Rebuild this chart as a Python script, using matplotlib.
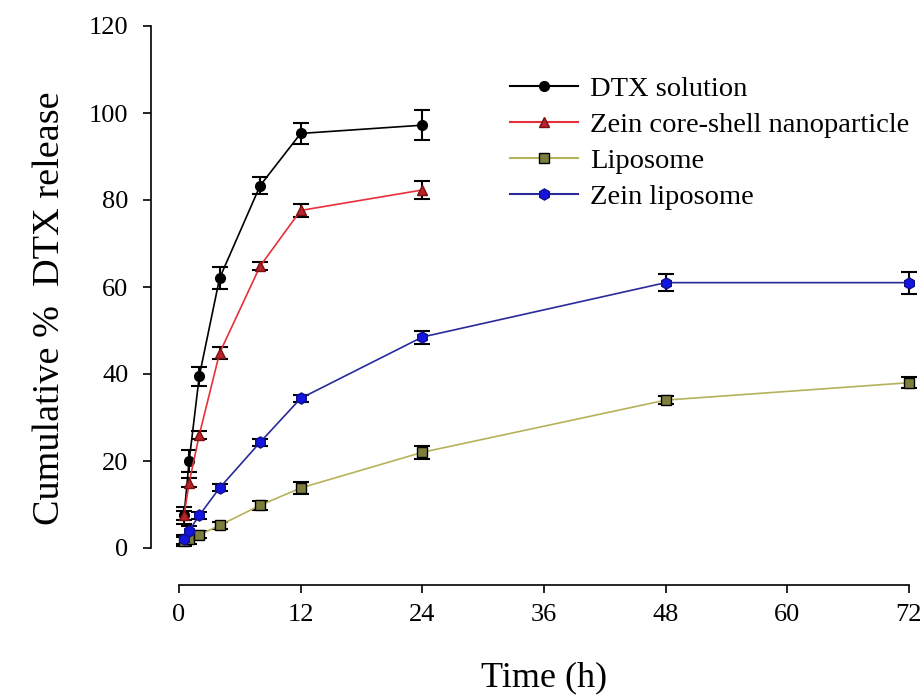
import matplotlib
matplotlib.use("Agg")
import matplotlib.pyplot as plt
from matplotlib.lines import Line2D

time_dtx = [0.5, 1, 2, 4, 8, 12, 24]
dtx_solution = [7.5, 20, 39.5, 62, 83.3, 95.3, 97.2]
dtx_err = [2, 2.5, 2.2, 2.5, 2, 2.5, 3.5]

time_zcs = [0.5, 1, 2, 4, 8, 12, 24]
zein_cs = [7.5, 15, 26, 44.8, 64.8, 77.6, 82.3]
zcs_err = [1, 1, 1, 1.3, 1, 1.5, 2]

time_lipo = [0.5, 1, 2, 4, 8, 12, 24, 48, 72]
liposome = [1.5, 2, 3, 5.2, 9.8, 13.8, 22, 34, 38]
lipo_err = [1, 1, 0.8, 0.8, 1, 1.3, 1.5, 1, 1.2]

time_zl = [0.5, 1, 2, 4, 8, 12, 24, 48, 72]
zein_lipo = [2, 4, 7.5, 13.8, 24.3, 34.4, 48.5, 61, 61]
zl_err = [1, 1, 0.8, 0.8, 0.8, 0.8, 1.5, 2, 2.5]

labels = ['DTX solution', 'Zein core-shell nanoparticle', 'Liposome', 'Zein liposome']
x_ticks = [0, 12, 24, 36, 48, 60, 72]
y_ticks = [0, 20, 40, 60, 80, 100, 120]

plt.rcParams['font.family'] = ['Liberation Serif', 'DejaVu Serif']

fig = plt.figure(figsize=(9.24, 7), dpi=100)
ax = fig.add_axes([179/924, 1 - 548/700, 730/924, 522/700])

ekw = dict(ecolor='black', elinewidth=1.5, capsize=6, capthick=1.5, clip_on=False)

styles = [
    dict(color='black', marker='o', ms=7, mfc='black', mec='black'),
    dict(color='#e8303a', marker='^', ms=7, mfc='#b8242c', mec='#7a1010'),
    dict(color='#b5b25a', marker='s', ms=7, mfc='#7d7d3c', mec='black'),
    dict(color='#2a2a9a', marker='h', ms=8, mfc='#1515e0', mec='#10108a'),
]
series = [(time_dtx, dtx_solution, dtx_err), (time_zcs, zein_cs, zcs_err),
          (time_lipo, liposome, lipo_err), (time_zl, zein_lipo, zl_err)]

handles = []
for (t, v, e), st, lab in zip(series, styles, labels):
    ax.errorbar(t, v, yerr=e, lw=1.2, **st, **ekw)
    handles.append(Line2D([], [], lw=1.5, **st))

ax.set_xlim(0, 72)
ax.set_ylim(0, 120)
ax.set_xticks(x_ticks)
ax.set_yticks(y_ticks)
ax.spines['top'].set_visible(False)
ax.spines['right'].set_visible(False)
ax.spines['left'].set_position(('outward', 20.5))
ax.spines['bottom'].set_position(('outward', 26.5))
ax.spines['left'].set_bounds(0, 120)
ax.spines['bottom'].set_bounds(0, 72)
for s in ('left', 'bottom'):
    ax.spines[s].set_linewidth(1.2)
ax.tick_params(direction='out', length=6, width=1.2, labelsize=19, pad=10)
ax.tick_params(axis='x', pad=8)

ax.set_xlabel('Time (h)', fontsize=26, labelpad=25)
ax.set_ylabel('Cumulative %  DTX release', fontsize=27.5)
ax.yaxis.set_label_coords(-0.153, 0.46)

leg = ax.legend(handles, labels, loc='upper left', bbox_to_anchor=(0.453, 0.905), frameon=False,
                fontsize=20.5, handlelength=2.41, handletextpad=0.42,
                labelspacing=0.36, borderaxespad=0, borderpad=0)
fig.savefig('out.png', dpi=100)
